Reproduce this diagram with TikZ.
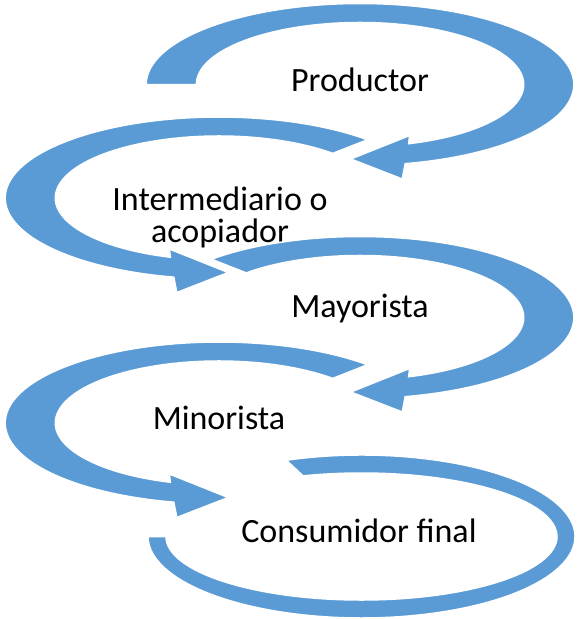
\documentclass[tikz,border=0pt]{standalone}
\usepackage{fontspec}
\setmainfont{Carlito}
\definecolor{arrowblue}{HTML}{5B9BD5}
\tikzset{
  ring/.style={fill=arrowblue, draw=white, line width=1.5pt, line join=miter},
  lbl/.style={font=\fontsize{34pt}{32pt}\selectfont, text=black, inner sep=0pt, align=center}
}
% #1,#2 centre (px), #3 horizontal stretch (negative = mirrored), #4 start angle
\newcommand{\cycarrow}[4]{%
  \begin{scope}[shift={(#1,#2)}, xscale=#3]
    \path[ring] (#4:81) arc[start angle=#4, end angle=437.8, radius=81]
      -- (16,94.5) -- (-3.5,74.5) -- (18.8,51)
      -- (432.7:62) arc[start angle=432.7, end angle=#4, radius=62] -- cycle;
  \end{scope}}
\begin{document}
\begin{tikzpicture}[x=1pt, y=1pt, yscale=-1]
  \useasboundingbox (0,0) rectangle (577,619);
  % Productor
  \cycarrow{360}{84.5}{2.64}{180}
  \node[lbl, anchor=base] (t1) at (360,91) {Productor};
  % Intermediario o acopiador
  \cycarrow{219}{198}{-2.64}{226}
  \node[lbl, anchor=base] (t2) at (220,242) {Intermediario o\\acopiador};
  % Mayorista
  \cycarrow{360}{317.5}{2.64}{226}
  \node[lbl, anchor=base] (t3) at (360,317) {Mayorista};
  % Minorista
  \cycarrow{219}{423}{-2.64}{226}
  \node[lbl, anchor=base] (t4) at (219,429) {Minorista};
  % Consumidor final
  \begin{scope}[shift={(361.5,536.5)}]
    \path[ring] (249.4:213.5 and 81.5)
      arc[start angle=249.4, end angle=540, x radius=213.5, y radius=81.5]
      -- (540:195.5 and 63.5)
      arc[start angle=540, end angle=252.6, x radius=195.5, y radius=63.5] -- cycle;
  \end{scope}
  \node[lbl, anchor=base] (t5) at (359,542) {Consumidor final};
\end{tikzpicture}
\end{document}
